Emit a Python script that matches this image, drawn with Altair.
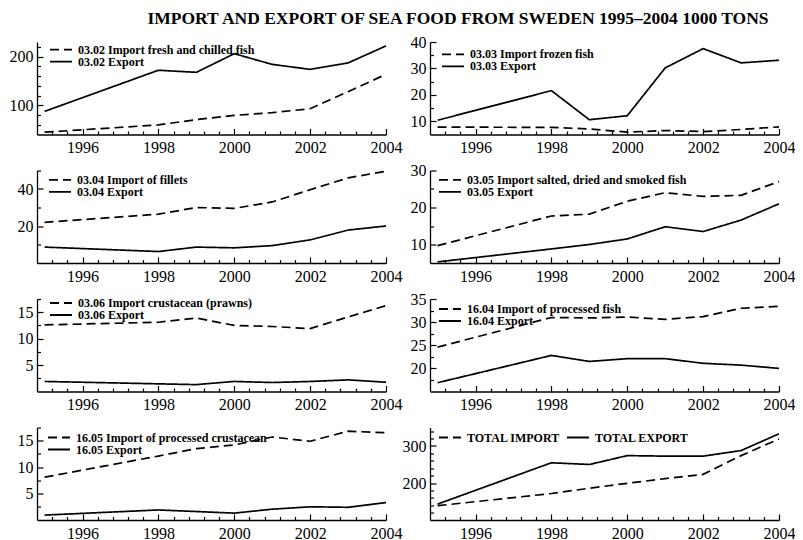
import altair as alt
import pandas as pd

YEARS = [1995, 1998, 1999, 2000, 2001, 2002, 2003, 2004]

IMPORT_0302 = [44.7, 59.7, 70.5, 79.3, 84.8, 93.0, 128.0, 163.6]
EXPORT_0302 = [87.5, 172.0, 167.7, 206.0, 184.0, 173.8, 187.0, 222.0]
IMPORT_0303 = [7.8, 7.7, 7.1, 5.9, 6.5, 6.1, 6.9, 7.9]
EXPORT_0303 = [10.4, 21.6, 10.6, 12.1, 30.2, 37.5, 32.1, 33.1]
IMPORT_0304 = [22.0, 26.4, 30.0, 29.5, 33.0, 39.6, 46.0, 49.6]
EXPORT_0304 = [8.6, 6.2, 8.6, 8.2, 9.4, 12.5, 17.8, 20.0]
IMPORT_0305 = [9.7, 17.7, 18.2, 21.7, 24.0, 23.0, 23.3, 27.0]
EXPORT_0305 = [5.3, 8.8, 10.0, 11.5, 14.8, 13.5, 16.6, 21.0]
IMPORT_0306 = [12.6, 13.1, 13.9, 12.5, 12.3, 11.9, 14.1, 16.25]
EXPORT_0306 = [1.9, 1.45, 1.3, 1.9, 1.7, 1.9, 2.2, 1.75]
IMPORT_1604 = [24.6, 31.0, 30.9, 31.1, 30.6, 31.2, 33.0, 33.4]
EXPORT_1604 = [16.9, 22.8, 21.5, 22.1, 22.1, 21.1, 20.7, 20.0]
IMPORT_1605 = [8.1, 12.1, 13.5, 14.2, 15.7, 14.9, 16.8, 16.5]
EXPORT_1605 = [0.93, 1.9, 1.6, 1.3, 2.05, 2.5, 2.4, 3.3]
TOTAL_IMPORT = [138.6, 171.6, 185.8, 199.2, 211.8, 223.3, 274.0, 319.0]
TOTAL_EXPORT = [143.0, 254.7, 250.0, 274.0, 272.6, 272.6, 287.7, 333.0]

SERIES = [
    (IMPORT_0302, EXPORT_0302), (IMPORT_0303, EXPORT_0303),
    (IMPORT_0304, EXPORT_0304), (IMPORT_0305, EXPORT_0305),
    (IMPORT_0306, EXPORT_0306), (IMPORT_1604, EXPORT_1604),
    (IMPORT_1605, EXPORT_1605), (TOTAL_IMPORT, TOTAL_EXPORT),
]

LABELS = [
    ("03.02 Import fresh and chilled fish", "03.02 Export"),
    ("03.03 Import frozen fish", "03.03 Export"),
    ("03.04 Import of fillets", "03.04 Export"),
    ("03.05 Import salted, dried and smoked fish", "03.05 Export"),
    ("03.06 Import crustacean (prawns)", "03.06 Export"),
    ("16.04 Import of processed fish", "16.04 Export"),
    ("16.05 Import of processed crustacean", "16.05 Export"),
    ("TOTAL IMPORT", "TOTAL EXPORT"),
]

Y_DOMAINS = [[40, 230], [5, 40], [0, 50], [5, 30], [0, 17.5], [15, 35], [0, 17.5], [100, 350]]
Y_MAJOR = [[100, 200], [10, 20, 30, 40], [20, 40], [10, 20, 30], [5, 10, 15],
           [20, 25, 30, 35], [5, 10, 15], [200, 300]]
Y_MINOR = [[60, 80, 120, 140, 160, 180, 220], [15, 25, 35], [10, 30, 50], [15, 25],
           [2.5, 7.5, 12.5, 17.5], [17.5, 22.5, 27.5, 32.5], [2.5, 7.5, 12.5, 17.5],
           [120, 140, 160, 180, 220, 240, 260, 280, 320, 340]]

X_DOMAIN = [1994.8, 2004]
X_MAJOR = [1996, 1998, 2000, 2002, 2004]
X_MINOR = [round(1994.8 + 0.4 * k, 1) for k in range(1, 23)]
X_MINOR = [v for v in X_MINOR if abs(v - round(v)) > 0.01 or int(round(v)) % 2 == 1]

LEGEND_X = [12, 11, 11, 8, 12, 8, 10, 8]
LEGEND_Y = [1.6, 6.3, 3.3, 3.3, -2, 4, 4, 4]

TITLE = "IMPORT AND EXPORT OF SEA FOOD FROM SWEDEN 1995\u20132004 1000 TONS"
SERIF = "Liberation Serif"

W, H = 349, 92.5


def panel(i):
    imp, exp = SERIES[i]
    li, le = LABELS[i]
    df = pd.DataFrame({
        "year": YEARS + YEARS,
        "value": imp + exp,
        "series": [li] * len(YEARS) + [le] * len(YEARS),
    })
    xs = alt.Scale(domain=X_DOMAIN, nice=False, zero=False)
    ys = alt.Scale(domain=Y_DOMAINS[i], nice=False, zero=False)
    horizontal = i == 7
    legend = alt.Legend(
        title=None, orient="none", legendX=LEGEND_X[i], legendY=LEGEND_Y[i],
        direction="horizontal" if horizontal else "vertical",
        columns=2 if horizontal else 1,
        symbolType="stroke", symbolSize=484, symbolStrokeWidth=1.8,
        symbolStrokeColor="black", labelFont=SERIF, labelFontWeight="bold",
        labelFontSize=12, labelColor="black", labelOffset=5, rowPadding=0,
        columnPadding=6, padding=0, labelLimit=400, clipHeight=12,
    )
    lab = dict(labelFont=SERIF, labelFontSize=16, labelColor="black",
               labelFlush=False, labelOverlap=False)
    lines = alt.Chart(df).mark_line(color="black", strokeWidth=1.7).encode(
        x=alt.X("year:Q", scale=xs, axis=alt.Axis(
            orient="bottom", values=X_MAJOR, format="d", ticks=False, grid=False,
            title=None, labelPadding=5, **lab)),
        y=alt.Y("value:Q", scale=ys, axis=alt.Axis(
            orient="left", values=Y_MAJOR[i], ticks=False, grid=False,
            title=None, labelPadding=4, **lab)),
        strokeDash=alt.StrokeDash("series:N", scale=alt.Scale(domain=[li, le], range=[[9, 5], [1, 0]]),
                                  legend=legend),
    )
    major = alt.Chart(df).mark_line(opacity=0).encode(
        x=alt.X("year:Q", scale=xs, axis=alt.Axis(
            orient="bottom", values=X_MAJOR, ticks=True, tickSize=6, offset=-6,
            domain=False, labels=False, grid=False, title=None)),
        y=alt.Y("value:Q", scale=ys, axis=alt.Axis(
            orient="left", values=Y_MAJOR[i], ticks=True, tickSize=6, offset=-6,
            domain=False, labels=False, grid=False, title=None)),
        detail="series:N",
    )
    minor = alt.Chart(df).mark_line(opacity=0).encode(
        x=alt.X("year:Q", scale=xs, axis=alt.Axis(
            orient="bottom", values=X_MINOR, ticks=True, tickSize=3.5, offset=-3.5,
            domain=False, labels=False, grid=False, title=None)),
        y=alt.Y("value:Q", scale=ys, axis=alt.Axis(
            orient="left", values=Y_MINOR[i], ticks=True, tickSize=3.5, offset=-3.5,
            domain=False, labels=False, grid=False, title=None)),
        detail="series:N",
    )
    return alt.layer(lines, major, minor).resolve_axis(
        x="independent", y="independent").properties(width=W, height=H)


chart = alt.concat(
    *[panel(i) for i in range(8)], columns=2,
    spacing={"row": 35.5, "column": 44}, bounds="flush",
    title=alt.TitleParams(TITLE, font=SERIF, fontSize=17.5, fontWeight="bold",
                          color="black", anchor="middle", dx=56, offset=6.5),
    padding={"left": 1, "top": 2, "right": 0, "bottom": 0},
    background="white",
).resolve_scale(strokeDash="independent").configure_view(stroke=None).configure_axis(
    domainColor="black", domainWidth=1.3, tickColor="black", tickWidth=1.2,
    labelFont=SERIF, labelFontSize=16, labelColor="black",
)

chart.save("out.html", embed_options={"renderer": "svg", "actions": False})
